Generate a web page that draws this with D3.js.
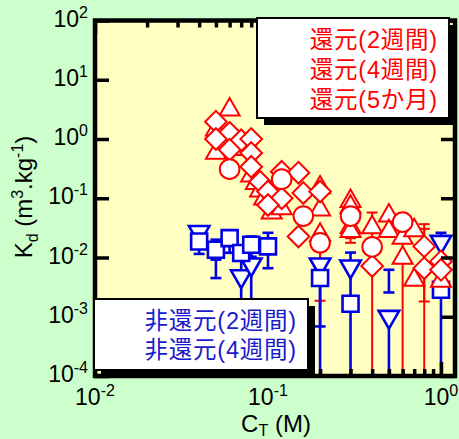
<!DOCTYPE html>
<html>
<head>
<meta charset="utf-8">
<script src="https://cdn.jsdelivr.net/npm/d3@7"></script>
<style>
  html, body { margin: 0; padding: 0; background: #ccffcc; }
  svg { display: block; }
</style>
</head>
<body>
<svg id="chart" width="459" height="439"></svg>
<script>
// ---- data: total concentration C_T (M) vs distribution coefficient Kd (m3/kg) ----
const xMajorTicks = [0.01, 0.1, 1];
const xMinorTicks = [0.02, 0.03, 0.04, 0.05, 0.06, 0.07, 0.08, 0.09,
                     0.2, 0.3, 0.4, 0.5, 0.6, 0.7, 0.8, 0.9];
const yMajorTicks = [1e-4, 1e-3, 1e-2, 1e-1, 1, 10, 100];
const xTickExponents = ["-2", "-1", "0"];
const yTickExponents = ["-4", "-3", "-2", "-1", "0", "1", "2"];

const reducedLabels = ["還元(2週間)", "還元(4週間)", "還元(5か月)"];
const oxidLabels = ["非還元(2週間)", "非還元(4週間)"];

// 還元(4週間): triangles
const red4w = [
  [0.06, 3.5], [0.05, 1.6], [0.05, 0.65], [0.07, 0.75], [0.08, 0.27],
  [0.085, 0.2], [0.09, 0.15], [0.095, 0.11], [0.105, 0.064], [0.12, 0.075],
  [0.2, 0.17], [0.2, 0.072], [0.2, 0.027], [0.3, 0.1], [0.3, 0.08],
  [0.3, 0.036], [0.3, 0.031], [0.4, 0.036], [0.5, 0.057], [0.5, 0.031],
  [0.6, 0.024], [0.6, 0.011], [0.7, 0.032], [0.7, 0.0047], [1.0, 0.0045]
];
// 還元(2週間): diamonds
const red2w = [
  [0.05, 1.96], [0.06, 1.27], [0.05, 1.0], [0.07, 0.95], [0.08, 1.0],
  [0.06, 0.66], [0.08, 0.58], [0.08, 0.34], [0.09, 0.19], [0.1, 0.13],
  [0.12, 0.28], [0.15, 0.27], [0.12, 0.10], [0.1, 0.077], [0.16, 0.123],
  [0.2, 0.13], [0.15, 0.0226], [0.4, 0.0072], [0.8, 0.0154], [0.8, 0.0066],
  [1.0, 0.0086], [1.0, 0.0062]
];
// 還元(5か月): circles
const red5m = [
  [0.06, 0.31], [0.12, 0.21], [0.16, 0.05], [0.2, 0.0177], [0.3, 0.05],
  [0.4, 0.0151], [0.6, 0.0395]
];
// 非還元(2週間): squares
const ox2w = [
  [0.04, 0.0186], [0.05, 0.0135], [0.06, 0.0212], [0.07, 0.0119], [0.08, 0.0164],
  [0.1, 0.0154], [0.2, 0.0045], [0.3, 0.00166], [1.0, 0.00285]
];
// 非還元(4週間): inverted triangles
const ox4w = [
  [0.04, 0.024], [0.07, 0.0043], [0.08, 0.0068], [0.2, 0.0068], [0.3, 0.0063],
  [0.5, 0.00089], [1.0, 0.0164]
];

// error ranges [C, low, high]; null low = below the axis range
const redErr = [
  [0.2, 0.00186, 0.0177], [0.2, 0.0095, 0.027], [0.2, 0.0568, 0.17],
  [0.3, 0.0212, 0.033], [0.3, 0.0177, 0.05],
  [0.4, null, 0.0574], [0.6, null, 0.0395],
  [0.8, 0.00181, 0.0305], [0.8, null, 0.0365]
];
const blueErr = [
  [0.04, 0.0115, 0.0333], [0.05, 0.0045, 0.0135], [0.05, 0.0092, 0.02],
  [0.06, 0.012, 0.0274], [0.07, null, 0.0119], [0.08, null, 0.0164],
  [0.08, 0.0103, 0.0226], [0.1, 0.0066, 0.0261],
  [0.2, 0.000686, 0.0045], [0.2, null, 0.0068], [0.3, null, 0.0121],
  [0.5, 0.00257, 0.0062], [0.5, null, 0.00089], [1.0, null, 0.0261]
];

// ---- layout ----
const svg = d3.select("#chart");
const W = 459, H = 439;
const RED = "#ff0000", BLUE = "#0000e6", TXT_BLUE = "#1a1acc";
const NUM_FONT = "'Liberation Sans', Arial, sans-serif";
const JP_FONT = "'Liberation Sans', 'Noto Sans CJK JP', sans-serif";

const x = d3.scaleLog().domain([0.01, 1.205]).range([95, 455]);
const y = d3.scaleLog().domain([1e-4, 1e2]).range([376, 20.5]);
const [x0, x1] = x.range();
const [yB, yT] = y.range();

svg.append("rect").attr("width", W).attr("height", H).attr("fill", "#ccffcc");
svg.append("rect")
  .attr("x", x0).attr("y", yT).attr("width", x1 - x0).attr("height", yB - yT)
  .attr("fill", "#ffffc2");

// ---- error bars ----
function drawErrors(data, color, width) {
  const g = svg.append("g").attr("stroke", color).attr("stroke-width", width).attr("fill", "none");
  const cap = 11;
  data.forEach(([c, lo, hi]) => {
    const cx = x(c);
    const yl = lo === null ? yB : y(lo);
    const yh = y(hi);
    g.append("line").attr("x1", cx).attr("x2", cx).attr("y1", yl).attr("y2", yh);
    g.append("line").attr("x1", cx - cap / 2).attr("x2", cx + cap / 2).attr("y1", yh).attr("y2", yh);
    if (lo !== null)
      g.append("line").attr("x1", cx - cap / 2).attr("x2", cx + cap / 2).attr("y1", yl).attr("y2", yl);
  });
}
drawErrors(redErr, RED, 2);
drawErrors(blueErr, BLUE, 2.6);

// ---- markers ----
const triUp = (s) => { const h = s * 0.87; return `M0,${-h / 2}L${s / 2},${h / 2}L${-s / 2},${h / 2}Z`; };
const triDown = (s) => { const h = s * 0.87; return `M0,${h / 2}L${s / 2},${-h / 2}L${-s / 2},${-h / 2}Z`; };
const diamond = (r) => `M0,${-r}L${r},0L0,${r}L${-r},0Z`;
const square = (s) => `M${-s / 2},${-s / 2}h${s}v${s}h${-s}Z`;
const circle = d3.symbol().type(d3.symbolCircle).size(Math.PI * 9.8 * 9.8)();

function drawMarks(data, path, color, width) {
  svg.append("g").selectAll("path").data(data).join("path")
    .attr("d", path)
    .attr("transform", d => `translate(${x(d[0])},${y(d[1])})`)
    .attr("fill", "#fff").attr("stroke", color).attr("stroke-width", width)
    .attr("stroke-linejoin", "miter");
}
drawMarks(ox4w, triDown(20.5), BLUE, 2.6);
drawMarks(ox2w, square(16), BLUE, 2.6);
drawMarks(red4w, triUp(20), RED, 2);
drawMarks(red2w, diamond(10.8), RED, 2);
drawMarks(red5m, circle, RED, 2);

// ---- axes (ticks inside the frame) ----
function styleAxis(g) {
  g.select(".domain").remove();
  g.selectAll(".tick line").attr("stroke", "#000").attr("stroke-width", 3.5);
  g.selectAll(".tick text").remove();
}
svg.append("g").attr("transform", `translate(0,${yB})`)
  .call(d3.axisBottom(x).tickValues(xMajorTicks).tickSize(-14).tickFormat("")).call(styleAxis);
svg.append("g").attr("transform", `translate(0,${yB})`)
  .call(d3.axisBottom(x).tickValues(xMinorTicks).tickSize(-7).tickFormat("")).call(styleAxis);
svg.append("g").attr("transform", `translate(0,${yT})`)
  .call(d3.axisTop(x).tickValues(xMajorTicks).tickSize(-14).tickFormat("")).call(styleAxis);
svg.append("g").attr("transform", `translate(0,${yT})`)
  .call(d3.axisTop(x).tickValues(xMinorTicks).tickSize(-7).tickFormat("")).call(styleAxis);
svg.append("g").attr("transform", `translate(${x0},0)`)
  .call(d3.axisLeft(y).tickValues(yMajorTicks).tickSize(-14).tickFormat("")).call(styleAxis);
svg.append("g").attr("transform", `translate(${x1},0)`)
  .call(d3.axisRight(y).tickValues(yMajorTicks).tickSize(-14).tickFormat("")).call(styleAxis);

// frame
svg.append("rect")
  .attr("x", x0).attr("y", yT).attr("width", x1 - x0).attr("height", yB - yT)
  .attr("fill", "none").attr("stroke", "#000").attr("stroke-width", 4.5);

// ---- tick labels ----
function powerText(sel, exp) {
  sel.append("tspan").text("10");
  sel.append("tspan").attr("dy", -9).attr("font-size", 16).text(exp);
}
xMajorTicks.forEach((v, i) => {
  svg.append("text").attr("x", x(v)).attr("y", 405)
    .attr("text-anchor", "middle").attr("font-family", NUM_FONT).attr("font-size", 23)
    .attr("fill", "#000").call(powerText, xTickExponents[i]);
});
yMajorTicks.forEach((v, i) => {
  svg.append("text").attr("x", 88).attr("y", y(v) + 6)
    .attr("text-anchor", "end").attr("font-family", NUM_FONT).attr("font-size", 23)
    .attr("fill", "#000").call(powerText, yTickExponents[i]);
});

// ---- axis titles ----
const xt = svg.append("text").attr("x", 276).attr("y", 432).attr("text-anchor", "middle")
  .attr("font-family", NUM_FONT).attr("font-size", 24).attr("fill", "#000");
xt.append("tspan").text("C");
xt.append("tspan").attr("dy", 4).attr("font-size", 16).text("T");
xt.append("tspan").attr("dy", -4).text(" (M)");

const yt = svg.append("text").attr("transform", "translate(32,197) rotate(-90)")
  .attr("text-anchor", "middle").attr("font-family", NUM_FONT).attr("font-size", 24).attr("fill", "#000");
yt.append("tspan").text("K");
yt.append("tspan").attr("dy", 6).attr("font-size", 16).text("d");
yt.append("tspan").attr("dy", -6).text(" (m");
yt.append("tspan").attr("dy", -9).attr("font-size", 16).text("3");
yt.append("tspan").attr("dy", 9).text(".kg");
yt.append("tspan").attr("dy", -9).attr("font-size", 16).text("-1");
yt.append("tspan").attr("dy", 9).text(")");

// ---- legends (text boxes with drop shadow) ----
function legendBox(bx, by, bw, bh) {
  svg.append("rect").attr("x", bx + 7).attr("y", by + 7).attr("width", bw).attr("height", bh).attr("fill", "#000");
  svg.append("rect").attr("x", bx).attr("y", by).attr("width", bw).attr("height", bh)
    .attr("fill", "#fff").attr("stroke", "#000").attr("stroke-width", 2);
}
legendBox(257, 18, 192, 100);
reducedLabels.forEach((t, i) => {
  svg.append("text").attr("x", 438).attr("y", 48 + i * 30).attr("text-anchor", "end")
    .attr("font-family", JP_FONT).attr("font-size", 23.5).attr("letter-spacing", 0.8)
    .attr("fill", RED).text(t);
});
legendBox(94, 299, 214, 71);
oxidLabels.forEach((t, i) => {
  svg.append("text").attr("x", 297).attr("y", 329 + i * 29).attr("text-anchor", "end")
    .attr("font-family", JP_FONT).attr("font-size", 23.5).attr("letter-spacing", 0.8)
    .attr("fill", TXT_BLUE).text(t);
});
</script>
</body>
</html>
